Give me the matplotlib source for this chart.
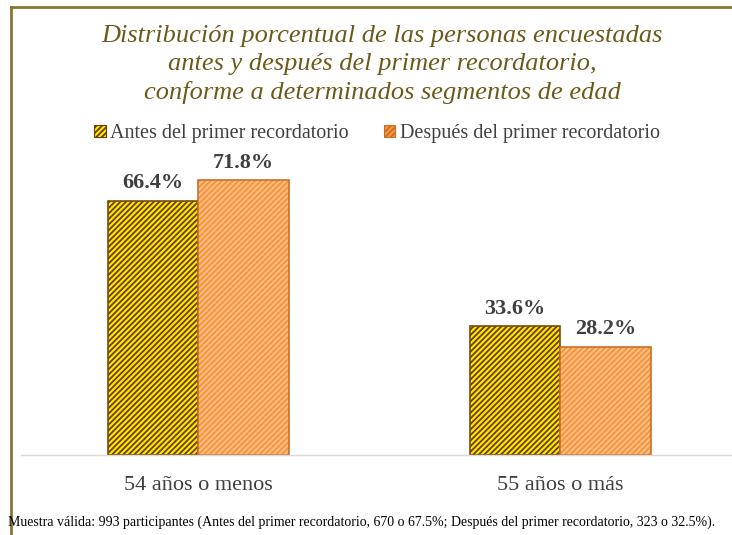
import numpy as np
import matplotlib
matplotlib.use("Agg")
import matplotlib.pyplot as plt
from matplotlib.patches import Patch
from matplotlib.lines import Line2D

categorias = ["54 años o menos", "55 años o más"]
antes = [66.4, 33.6]
despues = [71.8, 28.2]
series = ["Antes del primer recordatorio", "Después del primer recordatorio"]
titulo = ("Distribución porcentual de las personas encuestadas\n"
          "antes y después del primer recordatorio,\n"
          "conforme a determinados segmentos de edad")
nota = ("Muestra válida: 993 participantes (Antes del primer recordatorio, 670 o 67.5%; "
        "Después del primer recordatorio, 323 o 32.5%).")

SERIF = "Liberation Serif"
plt.rcParams["hatch.linewidth"] = 1.3

fig = plt.figure(figsize=(7.32, 5.35), dpi=100)
ax = fig.add_axes([0.0287, 0.1495, 0.971, 0.572])

x = np.arange(len(categorias))
w = 0.25

# relleno con trama, luego el borde
ax.bar(x - w / 2, antes, w, color="#ffe800", edgecolor="#6b3d00", hatch="//////", linewidth=0)
ax.bar(x - w / 2, antes, w, fill=False, edgecolor="#7a4a10", linewidth=1.2)
ax.bar(x + w / 2, despues, w, color="#f7963c", edgecolor="#ffc08a", hatch="//////", linewidth=0)
ax.bar(x + w / 2, despues, w, fill=False, edgecolor="#c8702a", linewidth=1.2)

for xi, v in zip(x - w / 2, antes):
    ax.text(xi, v + 2.0, f"{v}%", ha="center", va="bottom", fontsize=16, fontweight="bold",
            color="#404040", family=SERIF)
for xi, v in zip(x + w / 2, despues):
    ax.text(xi, v + 2.0, f"{v}%", ha="center", va="bottom", fontsize=16, fontweight="bold",
            color="#404040", family=SERIF)

ax.set_xlim(-0.49, 1.474)
ax.set_ylim(0, 80)
ax.set_yticks([])
ax.set_xticks(x)
ax.set_xticklabels(categorias, fontsize=16, color="#404040", family=SERIF)
ax.tick_params(axis="x", length=0, pad=15)
for s in ["top", "right", "left"]:
    ax.spines[s].set_visible(False)
ax.spines["bottom"].set_color("#d9d9d9")
ax.spines["bottom"].set_linewidth(1.0)

handles = [Patch(facecolor="#ffe800", edgecolor="#6b3d00", hatch="//////", linewidth=0.8),
           Patch(facecolor="#f7963c", edgecolor="#c8702a", hatch="//////", linewidth=0.8)]
fig.legend(handles, series, loc="center", bbox_to_anchor=(0.515, 0.751), ncol=2, frameon=False,
           prop={"family": SERIF, "size": 14.5}, handlelength=0.55, handleheight=0.55,
           handletextpad=0.2, columnspacing=1.8, labelcolor="#404040")

fig.text(0.522, 0.88, titulo, ha="center", va="center", fontsize=19, style="italic",
         color="#6b5a1a", family=SERIF, linespacing=1.35)

fig.text(0.011, 0.024, nota, ha="left", va="center", fontsize=10, color="#000000", family=SERIF)

# marco
fig.add_artist(Line2D([0.0150, 0.0150], [0.0, 0.986], color="#8a7430", lw=2.0))
fig.add_artist(Line2D([0.0150, 1.0], [0.986, 0.986], color="#8a7430", lw=2.0))

fig.savefig("out.png", dpi=100)
